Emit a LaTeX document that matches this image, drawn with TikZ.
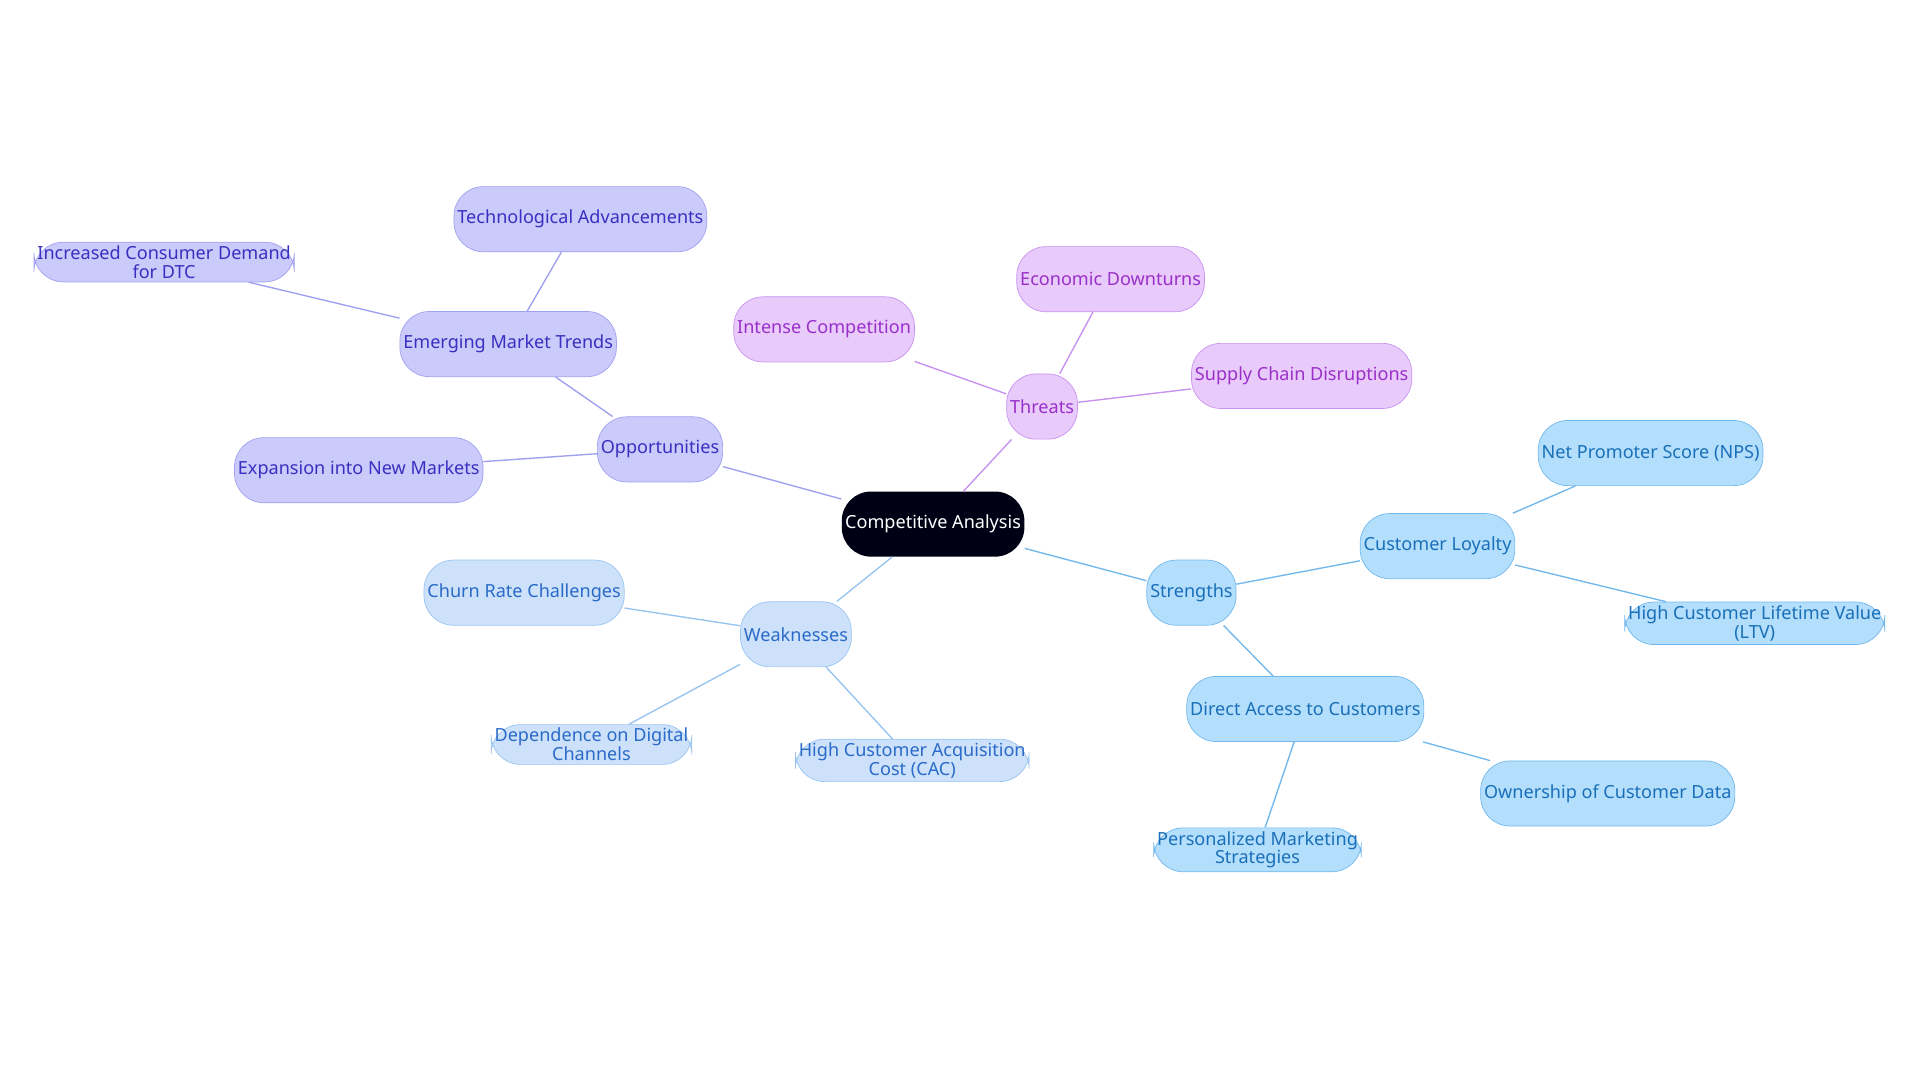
\documentclass[tikz,border=0pt]{standalone}
\usepackage{fontspec}
\setmainfont{Noto Sans}
\definecolor{oppfill}{HTML}{CBCBFB}
\definecolor{oppline}{HTML}{A0A0F0}
\definecolor{opptext}{HTML}{3A2FC0}
\definecolor{thrfill}{HTML}{E8CAFB}
\definecolor{thrline}{HTML}{C892F0}
\definecolor{thrtext}{HTML}{9A30C8}
\definecolor{strfill}{HTML}{B3DEFC}
\definecolor{strline}{HTML}{72B8EC}
\definecolor{strtext}{HTML}{1A70B8}
\definecolor{weafill}{HTML}{CDE2FA}
\definecolor{wealine}{HTML}{98C4F0}
\definecolor{weatext}{HTML}{2A6AC8}
\tikzset{
  box/.style={rounded corners=0.6cm, minimum height=1.33cm, align=center, font=\fontsize{10.5}{11}\selectfont, inner sep=2pt},
  opp/.style={box, fill=oppfill, draw=oppline, text=opptext},
  thr/.style={box, fill=thrfill, draw=thrline, text=thrtext},
  str/.style={box, fill=strfill, draw=strline, text=strtext},
  wea/.style={box, fill=weafill, draw=wealine, text=weatext},
}
\begin{document}
\begin{tikzpicture}
    \useasboundingbox (0,0) rectangle (1568 / 40,-884.5 / 40);
    \node[box, fill=black!92!blue, text=white, minimum width=188 / 40 cm] (root) at (762 / 40,-428 / 40){Competitive Analysis};

    \node[opp, minimum width=140 / 40 cm] (opp) at (539 / 40,-367 / 40){Opportunities};
    \node[opp, minimum width=209 / 40 cm] (trends) at (415 / 40,-281 / 40){Emerging Market Trends};
    \node[opp, minimum width=243 / 40 cm] (tech) at (474 / 40,-179 / 40){Technological Advancements};
    \node[opp, minimum width=243 / 40 cm, minimum height=69 / 40 cm] (dtc) at (134 / 40,-214 / 40){Increased Consumer Demand\\for DTC};
    \node[opp, minimum width=236 / 40 cm] (expand) at (293 / 40,-384 / 40){Expansion into New Markets};

    \node[thr, minimum width=101 / 40 cm] (thr) at (851 / 40,-332 / 40){Threats};
    \node[thr, minimum width=184 / 40 cm] (compet) at (673 / 40,-269 / 40){Intense Competition};
    \node[thr, minimum width=189 / 40 cm] (econ) at (907 / 40,-228 / 40){Economic Downturns};
    \node[thr, minimum width=212 / 40 cm] (supply) at (1063 / 40,-307 / 40){Supply Chain Disruptions};

    \node[str, minimum width=116 / 40 cm] (str) at (973 / 40,-484 / 40){Strengths};
    \node[str, minimum width=167 / 40 cm] (loyal) at (1174 / 40,-446 / 40){Customer Loyalty};
    \node[str, minimum width=223 / 40 cm] (nps) at (1348 / 40,-370 / 40){Net Promoter Score (NPS)};
    \node[str, minimum width=243 / 40 cm, minimum height=69 / 40 cm] (ltv) at (1433 / 40,-509 / 40){High Customer Lifetime Value\\(LTV)};
    \node[str, minimum width=235 / 40 cm] (direct) at (1066 / 40,-579 / 40){Direct Access to Customers};
    \node[str, minimum width=240 / 40 cm] (data) at (1313 / 40,-648 / 40){Ownership of Customer Data};
    \node[str, minimum width=202 / 40 cm, minimum height=69 / 40 cm] (pers) at (1027 / 40,-694 / 40){Personalized Marketing\\Strategies};

    \node[wea, minimum width=131 / 40 cm] (wea) at (650 / 40,-518 / 40){Weaknesses};
    \node[wea, minimum width=201 / 40 cm] (churn) at (428 / 40,-484 / 40){Churn Rate Challenges};
    \node[wea, minimum width=197 / 40 cm, minimum height=69 / 40 cm] (digital) at (483 / 40,-608 / 40){Dependence on Digital\\Channels};
    \node[wea, minimum width=225 / 40 cm, minimum height=69 / 40 cm] (cac) at (745 / 40,-621 / 40){High Customer Acquisition\\Cost (CAC)};

    \begin{scope}[on background layer/.style={}, thick]
        \draw[oppline] (root) -- (opp) (opp) -- (trends) (trends) -- (tech) (trends) -- (dtc) (opp) -- (expand);
        \draw[thrline] (root) -- (thr) (thr) -- (compet) (thr) -- (econ) (thr) -- (supply);
        \draw[strline] (root) -- (str) (str) -- (loyal) (loyal) -- (nps) (loyal) -- (ltv) (str) -- (direct) (direct) -- (data) (direct) -- (pers);
        \draw[wealine] (root) -- (wea) (wea) -- (churn) (wea) -- (digital) (wea) -- (cac);
    \end{scope}
\end{tikzpicture}
\end{document}
